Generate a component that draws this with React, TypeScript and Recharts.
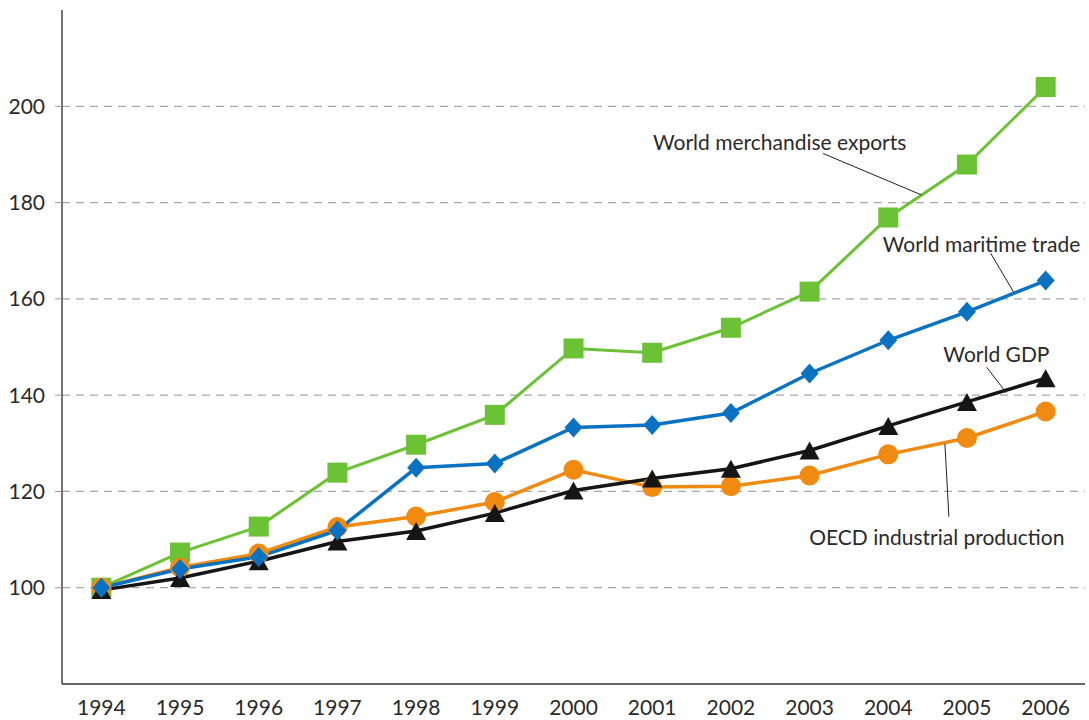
import React from "react";
import {
  LineChart,
  Line,
  XAxis,
  YAxis,
  CartesianGrid,
  ReferenceLine,
  ReferenceDot,
} from "recharts";

const years = [1994, 1995, 1996, 1997, 1998, 1999, 2000, 2001, 2002, 2003, 2004, 2005, 2006];
const merchandiseExports = [100, 107.3, 112.7, 123.9, 129.7, 135.9, 149.7, 148.8, 154.0, 161.5, 176.9, 187.9, 204.0];
const maritimeTrade = [100, 103.9, 106.4, 111.9, 124.9, 125.8, 133.3, 133.8, 136.3, 144.5, 151.4, 157.3, 163.8];
const worldGdp = [99.5, 102.0, 105.5, 109.6, 111.8, 115.5, 120.2, 122.7, 124.7, 128.5, 133.6, 138.6, 143.5];
const oecdProduction = [100, 104.2, 107.1, 112.6, 114.8, 117.8, 124.5, 120.9, 121.1, 123.3, 127.7, 131.1, 136.6];
const yTicks = [100, 120, 140, 160, 180, 200];

const data = years.map((year, i) => ({
  year,
  merchandise: merchandiseExports[i],
  maritime: maritimeTrade[i],
  gdp: worldGdp[i],
  oecd: oecdProduction[i],
}));

// series labels with their leader lines, in data units
const annotations = [
  { text: "World merchandise exports", x: 2001.01, y: 192.6, from: [2003.17, 190.2], to: [2004.42, 181.6] },
  { text: "World maritime trade", x: 2003.93, y: 171.5, from: [2005.3, 169.5], to: [2005.59, 161.5] },
  { text: "World GDP", x: 2004.7, y: 148.55, from: [2005.25, 145.8], to: [2005.5, 140.5] },
  { text: "OECD industrial production", x: 2002.995, y: 110.6, from: [2004.72, 129.85], to: [2004.77, 114.75] },
];

const FONT = "Lato, 'Open Sans', sans-serif";
const GREEN = "#6cc235";
const BLUE = "#0a72c2";
const ORANGE = "#f08a10";
const BLACK = "#151515";

const SquareDot = (p: any) => (
  <rect key={p.index} x={p.cx - 10} y={p.cy - 10} width={20} height={20} fill={GREEN} />
);
const DiamondDot = (p: any) => (
  <polygon
    key={p.index}
    points={`${p.cx},${p.cy - 10} ${p.cx + 9},${p.cy} ${p.cx},${p.cy + 10} ${p.cx - 9},${p.cy}`}
    fill={BLUE}
  />
);
const CircleDot = (p: any) => <circle key={p.index} cx={p.cx} cy={p.cy} r={10} fill={ORANGE} />;
const TriangleDot = (p: any) => (
  <polygon
    key={p.index}
    points={`${p.cx},${p.cy - 9} ${p.cx + 10},${p.cy + 9} ${p.cx - 10},${p.cy + 9}`}
    fill={BLACK}
  />
);

export default function App() {
  return (
    <div style={{ position: "absolute", left: 0, top: 0, background: "#fff" }}>
      <LineChart
        width={1089}
        height={720}
        data={data}
        margin={{ top: 10, right: 4, bottom: 6, left: 10 }}
      >
        <CartesianGrid
          vertical={false}
          horizontalValues={yTicks}
          stroke="#a6a6a6"
          strokeDasharray="8 6"
          strokeWidth={1.2}
        />
        <XAxis
          dataKey="year"
          type="number"
          domain={[1993.5, 2006.5]}
          ticks={years}
          height={30}
          tickLine={false}
          axisLine={{ stroke: "#333", strokeWidth: 1.5 }}
          tickMargin={10}
          tick={{ fill: "#2a2a2a", fontSize: 21, fontFamily: FONT }}
        />
        <YAxis
          domain={[80, 220]}
          ticks={yTicks}
          width={52}
          tickSize={7}
          tickLine={{ stroke: "#999" }}
          axisLine={{ stroke: "#444", strokeWidth: 1.5 }}
          tickMargin={10}
          tick={{ fill: "#2a2a2a", fontSize: 21, fontFamily: FONT }}
        />
        <Line
          dataKey="merchandise"
          stroke={GREEN}
          strokeWidth={3}
          dot={SquareDot}
          isAnimationActive={false}
        />
        <Line dataKey="oecd" stroke={ORANGE} strokeWidth={3.5} dot={CircleDot} isAnimationActive={false} />
        <Line dataKey="gdp" stroke={BLACK} strokeWidth={3.5} dot={TriangleDot} isAnimationActive={false} />
        <Line dataKey="maritime" stroke={BLUE} strokeWidth={3.5} dot={DiamondDot} isAnimationActive={false} />
        {annotations.map((a) => (
          <ReferenceLine
            key={a.text + "-line"}
            segment={[
              { x: a.from[0], y: a.from[1] },
              { x: a.to[0], y: a.to[1] },
            ]}
            stroke="#222"
            strokeWidth={1}
          />
        ))}
        {annotations.map((a) => (
          <ReferenceDot
            key={a.text}
            x={a.x}
            y={a.y}
            r={0}
            shape={(p: any) => (
              <text
                x={p.cx}
                y={p.cy}
                dominantBaseline="central"
                fill="#2a2a2a"
                fontSize={21}
                fontFamily={FONT}
              >
                {a.text}
              </text>
            )}
          />
        ))}
      </LineChart>
    </div>
  );
}
